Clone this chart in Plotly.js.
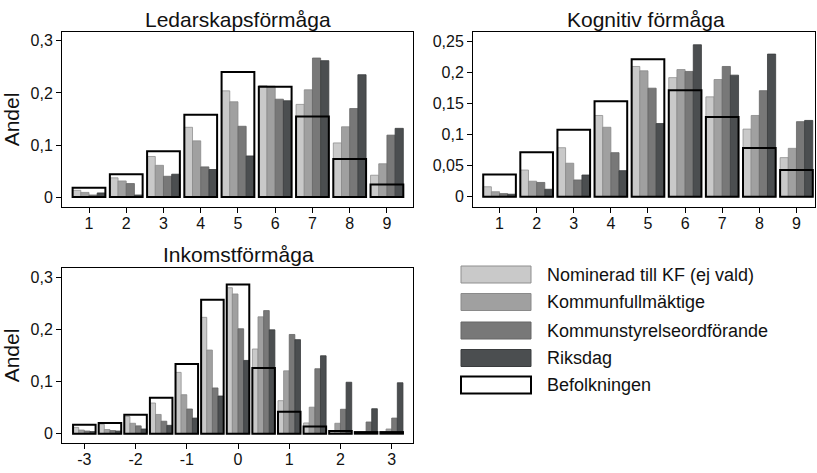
<!DOCTYPE html>
<html>
<head>
<meta charset="utf-8">
<script src="https://cdn.plot.ly/plotly-3.0.1.min.js"></script>
<style>html,body{margin:0;padding:0;background:#fff;}#chart{width:817px;height:473px;}</style>
</head>
<body>
<div id="chart"></div>
<script>
// ---- Data ----
var seriesNames = ["Nominerad till KF (ej vald)", "Kommunfullmäktige", "Kommunstyrelseordförande", "Riksdag", "Befolkningen"];
var seriesColors = ["#c9c9c9", "#a0a0a0", "#787878", "#4b4e50", "#ffffff"];
var seriesLines = ["#8f8f8f", "#8a8a8a", "#666666", "#3a3c3e", "#000000"];

var panelTitles = ["Ledarskapsförmåga", "Kognitiv förmåga", "Inkomstförmåga"];
var yTitle = "Andel";

// Ledarskapsförmåga
var ledCats = [1, 2, 3, 4, 5, 6, 7, 8, 9];
var ledNom = [0.013, 0.037, 0.078, 0.134, 0.204, 0.214, 0.178, 0.104, 0.042];
var ledKF  = [0.009, 0.031, 0.061, 0.108, 0.183, 0.213, 0.206, 0.135, 0.064];
var ledKSO = [0.004, 0.026, 0.040, 0.058, 0.136, 0.188, 0.267, 0.170, 0.119];
var ledRD  = [0.008, 0.004, 0.044, 0.053, 0.079, 0.185, 0.262, 0.235, 0.132];
var ledBef = [0.018, 0.044, 0.088, 0.158, 0.240, 0.212, 0.155, 0.073, 0.024];

// Kognitiv förmåga
var kogCats = [1, 2, 3, 4, 5, 6, 7, 8, 9];
var kogNom = [0.016, 0.043, 0.079, 0.131, 0.210, 0.192, 0.161, 0.109, 0.063];
var kogKF  = [0.008, 0.025, 0.054, 0.112, 0.203, 0.205, 0.189, 0.131, 0.078];
var kogKSO = [0.005, 0.023, 0.027, 0.071, 0.175, 0.202, 0.210, 0.171, 0.121];
var kogRD  = [0.004, 0.012, 0.035, 0.042, 0.118, 0.245, 0.196, 0.230, 0.123];
var kogBef = [0.036, 0.0715, 0.108, 0.154, 0.2215, 0.1715, 0.1285, 0.0785, 0.043];

// Inkomstförmåga
var inkCats = [-3, -2.5, -2, -1.5, -1, -0.5, 0, 0.5, 1, 1.5, 2, 2.5, 3];
var inkNom = [0.012, 0.018, 0.033, 0.059, 0.118, 0.224, 0.281, 0.163, 0.0635, 0.0206, 0.003, 0.002, 0.003];
var inkKF  = [0.007, 0.008, 0.020, 0.037, 0.075, 0.161, 0.269, 0.225, 0.121, 0.051, 0.020, 0.003, 0.009];
var inkKSO = [0.005, 0.006, 0.015, 0.024, 0.0475, 0.088, 0.202, 0.237, 0.191, 0.125, 0.047, 0.0225, 0.030];
var inkRD  = [0.004, 0.005, 0.009, 0.016, 0.030, 0.0725, 0.141, 0.200, 0.181, 0.150, 0.099, 0.048, 0.098];
var inkBef = [0.017, 0.0205, 0.0365, 0.069, 0.134, 0.258, 0.287, 0.1265, 0.042, 0.014, 0.005, 0.003, 0.003];

// Tick labels
var ticksTopX = [1, 2, 3, 4, 5, 6, 7, 8, 9];
var ticksTopXText = ["1", "2", "3", "4", "5", "6", "7", "8", "9"];
var ticksLedY = [0, 0.1, 0.2, 0.3];
var ticksLedYText = ["0", "0,1", "0,2", "0,3"];
var ticksKogY = [0, 0.05, 0.1, 0.15, 0.2, 0.25];
var ticksKogYText = ["0", "0,05", "0,1", "0,15", "0,2", "0,25"];
var ticksInkX = [-3, -2, -1, 0, 1, 2, 3];
var ticksInkXText = ["-3", "-2", "-1", "0", "1", "2", "3"];
var ticksInkY = [0, 0.1, 0.2, 0.3];
var ticksInkYText = ["0", "0,1", "0,2", "0,3"];

// ---- Build traces ----
var W = 817, H = 473;
var traces = [];
function addPanel(cats, groups, step, xa, ya) {
  var boxW = 0.88 * step;
  var sub = boxW / 4;
  for (var i = 0; i < 4; i++) {
    traces.push({
      type: "bar", x: cats, y: groups[i], xaxis: xa, yaxis: ya,
      width: sub, offset: -boxW / 2 + i * sub,
      marker: {color: seriesColors[i], line: {color: seriesLines[i], width: 0.8}},
      name: seriesNames[i], showlegend: false, hoverinfo: "x+y+name"
    });
  }
  traces.push({
    type: "bar", x: cats, y: groups[4], xaxis: xa, yaxis: ya,
    width: boxW, offset: -boxW / 2,
    marker: {color: "rgba(0,0,0,0)", line: {color: seriesLines[4], width: 2}},
    name: seriesNames[4], showlegend: false, hoverinfo: "x+y+name"
  });
}
addPanel(ledCats, [ledNom, ledKF, ledKSO, ledRD, ledBef], 1, "x", "y");
addPanel(kogCats, [kogNom, kogKF, kogKSO, kogRD, kogBef], 1, "x2", "y2");
addPanel(inkCats, [inkNom, inkKF, inkKSO, inkRD, inkBef], 0.5, "x3", "y3");

var font = "Liberation Sans, Arial, sans-serif";
function px(x) { return x / W; }
function py(y) { return 1 - y / H; }

function xAxis(domain, range, tv, tt, anchor) {
  return {domain: domain, range: range, anchor: anchor, tickvals: tv, ticktext: tt,
    ticks: "outside", ticklen: 5, tickwidth: 1, tickcolor: "#000",
    ticklabelstandoff: -3,
    showline: true, mirror: true, linecolor: "#000", linewidth: 1,
    showgrid: false, zeroline: false, fixedrange: true,
    tickfont: {family: font, size: 16, color: "#111"}};
}
function yAxis(domain, range, tv, tt, anchor) {
  return {domain: domain, range: range, anchor: anchor, tickvals: tv, ticktext: tt,
    ticks: "outside", ticklen: 5, tickwidth: 1, tickcolor: "#000",
    showline: true, mirror: true, linecolor: "#000", linewidth: 1,
    showgrid: false, zeroline: false, fixedrange: true,
    tickfont: {family: font, size: 16, color: "#111"},
    title: {text: yTitle, font: {family: font, size: 21, color: "#111"}, standoff: 5}};
}

var topY = [py(207), py(32)];
var botY = [py(443), py(268)];

var layout = {
  width: W, height: H,
  margin: {l: 0, r: 0, t: 0, b: 0},
  paper_bgcolor: "#fff", plot_bgcolor: "#fff",
  barmode: "overlay",
  separators: ",.",
  showlegend: false,
  xaxis: xAxis([px(62), px(413)], [0.275, 9.70], ticksTopX, ticksTopXText, "y"),
  yaxis: yAxis(topY, [-0.019, 0.317], ticksLedY, ticksLedYText, "x"),
  xaxis2: xAxis([px(473), px(815)], [0.285, 9.50], ticksTopX, ticksTopXText, "y2"),
  yaxis2: (function () { var a = yAxis(topY, [-0.0166, 0.2656], ticksKogY, ticksKogYText, "x2"); a.title = {text: ""}; return a; })(),
  xaxis3: xAxis([px(62), px(413)], [-3.436, 3.416], ticksInkX, ticksInkXText, "y3"),
  yaxis3: yAxis(botY, [-0.018, 0.319], ticksInkY, ticksInkYText, "x3"),
  annotations: [],
  shapes: []
};

// Panel titles
var titlePos = [[238, 19], [646, 19], [238, 254]];
for (var t = 0; t < 3; t++) {
  layout.annotations.push({text: panelTitles[t], xref: "paper", yref: "paper",
    x: px(titlePos[t][0]), y: py(titlePos[t][1]), xanchor: "center", yanchor: "middle",
    showarrow: false, font: {family: font, size: 21, color: "#111"}});
}

// Legend (drawn manually)
var legRows = [274.5, 302, 330.5, 358, 385];
for (var k = 0; k < 5; k++) {
  layout.shapes.push({type: "rect", xref: "paper", yref: "paper",
    x0: px(461), x1: px(531), y0: py(legRows[k] + 8.5), y1: py(legRows[k] - 8.5),
    fillcolor: seriesColors[k], line: {color: k === 4 ? "#000" : seriesLines[k], width: k === 4 ? 2 : 1}});
  layout.annotations.push({text: seriesNames[k], xref: "paper", yref: "paper",
    x: px(545), y: py(legRows[k]), xanchor: "left", yanchor: "middle",
    showarrow: false, font: {family: font, size: 18, color: "#111"}});
}

Plotly.newPlot("chart", traces, layout, {displayModeBar: false, staticPlot: true});
</script>
</body>
</html>
